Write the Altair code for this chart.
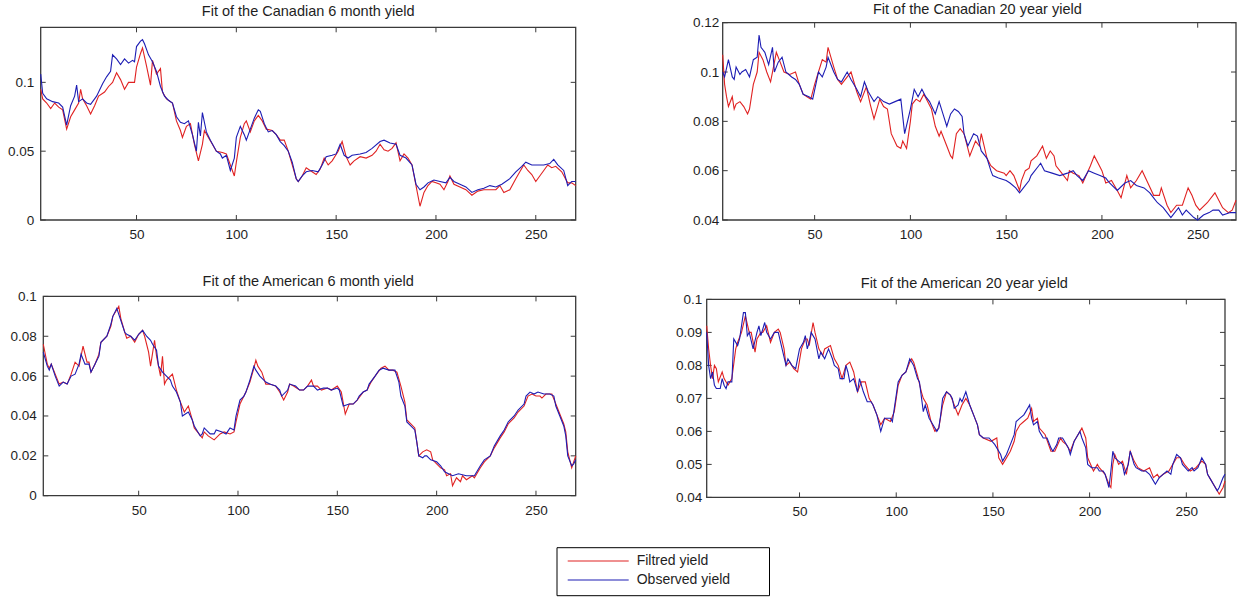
import altair as alt
import pandas as pd

FONT = "Liberation Sans"
RED = "#e02222"
BLUE = "#1d1db4"
FRAME = "#3a3a3a"
TEXT = "#1e1e1e"
SERIES = ["Filtred yield", "Observed yield"]

x_ticks = [50, 100, 150, 200, 250]
tl_yticks = [0, 0.05, 0.1]
tr_yticks = [0.04, 0.06, 0.08, 0.1, 0.12]
bl_yticks = [0, 0.02, 0.04, 0.06, 0.08, 0.1]
br_yticks = [0.04, 0.05, 0.06, 0.07, 0.08, 0.09, 0.1]

titles = ["Fit of the Canadian 6 month yield", "Fit of the Canadian 20 year yield",
          "Fit of the American 6 month yield", "Fit of the American 20 year yield"]

# ---- Canadian 6 month ----
tl_obs = [(2,.106),(3,.092),(5,.088),(8,.086),(11,.085),(13,.082),(15,.069),(17,.083),(19,.090),(20,.098),(21,.086),(23,.088),(25,.085),(27,.084),(30,.090),(33,.099),(35,.104),(37,.108),(38,.120),(40,.117),(42,.113),(44,.117),(46,.114),(48,.116),(49,.115),(50,.126),(52,.130),(53,.131),(54,.128),(56,.120),(58,.115),(60,.108),(62,.097),(64,.090),(66,.087),(68,.085),(70,.075),(72,.071),(74,.070),(76,.072),(78,.062),(80,.050),(81,.071),(82,.061),(83,.078),(85,.064),(87,.058),(90,.050),(92,.048),(93,.045),(95,.047),(97,.036),(99,.045),(100,.060),(102,.068),(104,.062),(105,.058),(107,.066),(109,.074),(111,.080),(112,.079),(114,.070),(116,.064),(118,.065),(120,.062),(122,.057),(124,.054),(126,.050),(128,.042),(130,.030),(131,.028),(133,.032),(135,.035),(138,.036),(141,.035),(143,.040),(145,.046),(148,.047),(150,.048),(152,.055),(154,.047),(156,.045),(158,.047),(162,.048),(165,.049),(168,.052),(172,.057),(174,.058),(177,.056),(180,.055),(182,.047),(185,.045),(188,.040),(190,.026),(192,.022),(194,.024),(196,.027),(199,.029),(202,.028),(205,.027),(207,.031),(209,.028),(212,.026),(215,.024),(218,.020),(221,.022),(224,.023),(227,.025),(230,.024),(233,.026),(237,.030),(240,.035),(243,.039),(245,.042),(248,.040),(251,.040),(254,.040),(257,.041),(259,.044),(261,.040),(264,.036),(266,.025),(268,.028),(270,.028)]
tl_fil = [(2,.095),(3,.088),(5,.085),(7,.081),(9,.085),(11,.082),(13,.080),(15,.066),(17,.075),(19,.080),(21,.085),(22,.095),(23,.088),(25,.083),(27,.077),(29,.083),(31,.090),(34,.093),(36,.097),(38,.100),(40,.107),(42,.102),(44,.095),(46,.100),(48,.100),(49,.100),(50,.111),(52,.121),(53,.125),(55,.112),(57,.098),(58,.116),(60,.106),(62,.110),(63,.093),(65,.088),(68,.085),(70,.072),(72,.065),(73,.060),(75,.068),(77,.070),(79,.055),(81,.043),(83,.055),(84,.065),(86,.060),(88,.055),(90,.050),(93,.049),(95,.048),(97,.040),(99,.032),(100,.042),(102,.060),(104,.070),(105,.072),(107,.064),(109,.072),(111,.076),(113,.072),(115,.066),(118,.065),(120,.062),(122,.058),(124,.058),(126,.050),(128,.040),(130,.030),(131,.028),(133,.032),(135,.038),(137,.036),(140,.033),(142,.037),(144,.045),(146,.040),(148,.043),(151,.050),(153,.057),(155,.046),(157,.040),(159,.043),(162,.046),(165,.045),(168,.047),(170,.050),(172,.055),(174,.051),(176,.050),(178,.052),(180,.056),(182,.043),(184,.048),(186,.045),(188,.040),(190,.025),(192,.010),(194,.020),(196,.025),(198,.028),(200,.027),(202,.026),(204,.022),(206,.028),(207,.032),(209,.026),(212,.024),(215,.022),(218,.018),(221,.021),(224,.022),(227,.022),(230,.022),(232,.025),(234,.020),(237,.022),(240,.030),(242,.035),(244,.040),(246,.036),(248,.033),(250,.028),(252,.032),(254,.036),(256,.040),(258,.038),(260,.039),(263,.035),(266,.027),(268,.027),(270,.025)]

# ---- Canadian 20 year ----
tr_obs = [(2,.100),(3,.098),(5,.105),(7,.098),(8,.097),(9,.102),(11,.099),(12,.100),(14,.101),(16,.098),(18,.105),(20,.106),(21,.115),(22,.110),(24,.108),(26,.103),(28,.110),(29,.100),(31,.104),(33,.106),(35,.100),(38,.098),(40,.097),(42,.095),(44,.091),(47,.090),(49,.089),(52,.100),(54,.098),(56,.102),(57,.106),(60,.100),(62,.097),(64,.096),(67,.100),(69,.097),(72,.093),(74,.090),(76,.096),(78,.092),(81,.088),(83,.090),(86,.088),(89,.087),(92,.088),(95,.089),(97,.075),(100,.085),(102,.093),(104,.090),(106,.093),(108,.090),(110,.088),(113,.083),(115,.088),(117,.083),(119,.078),(121,.083),(123,.085),(125,.084),(127,.082),(128,.075),(130,.070),(133,.075),(135,.074),(137,.068),(140,.065),(142,.060),(143,.058),(146,.057),(150,.056),(152,.055),(155,.053),(157,.051),(159,.053),(162,.056),(163,.058),(167,.062),(168,.063),(170,.060),(174,.059),(178,.058),(182,.059),(185,.060),(187,.058),(190,.056),(193,.060),(196,.059),(199,.058),(202,.057),(204,.055),(208,.052),(212,.055),(215,.056),(218,.054),(222,.053),(225,.051),(227,.049),(229,.047),(232,.045),(234,.043),(236,.041),(237,.042),(240,.045),(242,.042),(244,.044),(248,.041),(250,.040),(253,.042),(256,.043),(258,.044),(261,.044),(263,.042),(267,.043),(270,.043)]
tr_fil = [(2,.107),(3,.095),(4,.090),(5,.086),(7,.090),(8,.085),(9,.087),(11,.088),(13,.086),(15,.083),(16,.085),(18,.095),(20,.100),(21,.108),(23,.105),(25,.100),(27,.096),(28,.100),(30,.108),(32,.104),(34,.100),(37,.099),(40,.100),(42,.095),(44,.091),(46,.090),(48,.089),(50,.095),(52,.100),(54,.105),(56,.104),(57,.110),(60,.102),(62,.097),(64,.095),(67,.098),(69,.100),(72,.092),(74,.088),(77,.094),(79,.087),(81,.081),(84,.089),(86,.086),(88,.085),(90,.075),(93,.070),(95,.069),(96,.072),(98,.069),(100,.080),(101,.087),(103,.089),(105,.088),(107,.091),(109,.088),(111,.085),(113,.078),(115,.074),(116,.076),(119,.070),(121,.066),(122,.065),(124,.075),(126,.077),(128,.075),(131,.066),(134,.072),(136,.070),(137,.075),(140,.065),(142,.062),(145,.060),(149,.059),(150,.058),(152,.060),(154,.058),(156,.054),(157,.052),(158,.056),(160,.060),(162,.061),(163,.064),(166,.066),(169,.070),(171,.065),(173,.068),(175,.066),(176,.062),(178,.060),(182,.056),(183,.060),(185,.059),(188,.058),(190,.055),(194,.062),(196,.066),(198,.063),(200,.060),(202,.055),(205,.056),(208,.052),(210,.049),(213,.058),(215,.053),(218,.056),(221,.060),(224,.055),(227,.050),(230,.050),(231,.053),(234,.046),(236,.043),(239,.046),(242,.046),(245,.053),(247,.050),(249,.046),(251,.044),(255,.047),(259,.051),(261,.048),(263,.045),(266,.043),(268,.044),(270,.048)]

# ---- American 6 month ----
bl_obs = [(2,.072),(4,.065),(5,.063),(6,.066),(8,.060),(10,.055),(12,.057),(14,.056),(16,.060),(18,.061),(20,.066),(21,.071),(23,.066),(25,.066),(26,.062),(28,.066),(30,.070),(31,.077),(34,.080),(36,.086),(37,.090),(39,.094),(41,.088),(43,.082),(44,.081),(46,.080),(48,.078),(50,.081),(52,.083),(54,.080),(56,.078),(57,.076),(59,.073),(60,.065),(62,.062),(64,.060),(66,.058),(67,.055),(69,.052),(71,.047),(72,.040),(75,.042),(77,.038),(78,.035),(81,.030),(82,.031),(83,.034),(86,.031),(88,.031),(89,.033),(92,.032),(94,.031),(96,.034),(98,.033),(99,.040),(101,.048),(103,.050),(104,.052),(106,.058),(108,.065),(109,.063),(111,.060),(114,.057),(116,.056),(119,.055),(121,.053),(122,.050),(125,.053),(126,.056),(129,.055),(131,.053),(133,.053),(135,.055),(138,.055),(140,.053),(143,.054),(145,.054),(147,.053),(150,.054),(151,.053),(153,.045),(156,.046),(158,.046),(160,.048),(161,.050),(163,.052),(165,.053),(166,.056),(169,.060),(171,.063),(173,.064),(176,.063),(178,.063),(179,.063),(181,.057),(182,.050),(184,.045),(185,.037),(187,.035),(189,.033),(190,.027),(191,.020),(193,.019),(194,.020),(195,.020),(197,.018),(200,.017),(202,.015),(204,.012),(206,.011),(208,.010),(211,.011),(215,.010),(219,.010),(222,.015),(224,.018),(227,.020),(229,.025),(232,.030),(234,.033),(236,.037),(239,.040),(241,.043),(244,.046),(245,.050),(247,.052),(249,.051),(251,.052),(254,.051),(257,.051),(259,.050),(260,.045),(262,.040),(264,.035),(265,.030),(266,.020),(268,.015),(269,.016),(270,.018)]
bl_fil = [(2,.076),(4,.066),(5,.064),(6,.066),(8,.061),(10,.056),(12,.057),(14,.056),(16,.061),(18,.067),(20,.065),(22,.075),(24,.067),(25,.067),(26,.062),(28,.066),(30,.071),(31,.077),(34,.080),(36,.085),(37,.090),(40,.095),(41,.089),(43,.082),(44,.079),(46,.080),(48,.077),(50,.081),(52,.083),(53,.080),(55,.072),(56,.065),(58,.078),(59,.070),(61,.060),(62,.070),(63,.056),(64,.058),(67,.061),(69,.053),(71,.047),(73,.042),(75,.045),(77,.038),(78,.034),(82,.029),(83,.032),(85,.030),(88,.028),(91,.031),(93,.032),(96,.031),(98,.032),(99,.037),(101,.046),(103,.050),(104,.052),(106,.057),(108,.064),(109,.068),(110,.065),(112,.062),(114,.056),(116,.056),(119,.055),(121,.052),(123,.048),(125,.052),(126,.056),(128,.055),(131,.053),(133,.053),(135,.055),(137,.058),(138,.055),(140,.055),(142,.053),(145,.054),(147,.053),(150,.055),(152,.052),(154,.041),(156,.046),(158,.046),(160,.048),(163,.052),(165,.053),(167,.057),(169,.060),(172,.064),(174,.065),(176,.063),(178,.063),(180,.062),(182,.055),(184,.047),(185,.038),(187,.036),(189,.034),(190,.027),(191,.020),(193,.022),(195,.023),(197,.022),(198,.018),(200,.016),(202,.014),(204,.013),(205,.010),(207,.011),(208,.005),(210,.009),(212,.007),(213,.010),(215,.008),(218,.010),(219,.009),(222,.014),(224,.017),(227,.020),(229,.024),(232,.029),(234,.032),(236,.036),(239,.039),(241,.042),(244,.045),(246,.050),(248,.051),(250,.050),(252,.050),(253,.049),(255,.051),(258,.051),(260,.046),(262,.041),(264,.036),(265,.032),(266,.022),(268,.014),(269,.017),(270,.020)]

# ---- American 20 year ----
br_obs = [(2,.090),(3,.080),(4,.076),(5,.078),(6,.074),(7,.073),(9,.073),(10,.076),(11,.074),(12,.073),(13,.075),(15,.075),(16,.088),(18,.086),(19,.088),(21,.096),(22,.096),(23,.089),(24,.090),(26,.085),(28,.090),(29,.092),(30,.089),(32,.093),(33,.090),(35,.088),(37,.090),(39,.090),(41,.085),(43,.080),(44,.082),(46,.080),(48,.079),(50,.085),(52,.087),(53,.089),(54,.085),(55,.087),(56,.090),(58,.088),(60,.082),(61,.084),(63,.082),(65,.085),(67,.082),(68,.080),(70,.079),(71,.076),(73,.076),(74,.080),(75,.078),(76,.075),(78,.076),(80,.072),(81,.076),(83,.072),(85,.069),(87,.069),(88,.068),(90,.065),(92,.060),(94,.064),(97,.064),(98,.063),(99,.067),(101,.075),(103,.077),(105,.078),(106,.080),(107,.082),(109,.080),(111,.076),(112,.075),(114,.066),(115,.068),(117,.064),(118,.063),(119,.062),(121,.060),(122,.061),(123,.065),(124,.070),(126,.072),(128,.071),(129,.070),(130,.067),(132,.068),(133,.070),(134,.069),(136,.072),(138,.068),(140,.065),(142,.062),(143,.059),(145,.058),(148,.058),(151,.056),(154,.053),(155,.051),(157,.053),(159,.056),(161,.059),(162,.063),(164,.064),(166,.065),(167,.066),(169,.068),(170,.064),(171,.062),(173,.063),(174,.060),(176,.058),(178,.058),(180,.055),(181,.054),(183,.056),(184,.058),(186,.058),(187,.057),(189,.055),(190,.053),(192,.057),(193,.058),(195,.060),(196,.058),(198,.055),(199,.050),(201,.049),(204,.049),(205,.048),(207,.048),(208,.047),(209,.045),(210,.043),(211,.048),(212,.054),(213,.052),(215,.051),(217,.050),(218,.047),(220,.050),(221,.054),(223,.050),(224,.049),(227,.048),(229,.048),(231,.047),(233,.045),(234,.044),(236,.046),(238,.047),(240,.048),(242,.047),(243,.050),(245,.053),(247,.052),(248,.050),(251,.048),(253,.049),(254,.048),(256,.049),(258,.052),(260,.050),(261,.047),(263,.045),(264,.044),(266,.042),(267,.043),(269,.046),(270,.047)]
br_fil = [(2,.092),(3,.085),(4,.080),(5,.076),(6,.080),(7,.079),(8,.075),(10,.078),(11,.076),(13,.074),(14,.075),(15,.076),(17,.085),(18,.087),(20,.090),(22,.095),(24,.090),(25,.090),(27,.084),(28,.088),(30,.090),(31,.090),(33,.092),(35,.087),(37,.090),(39,.091),(40,.090),(42,.085),(43,.080),(45,.081),(47,.079),(49,.078),(51,.085),(53,.088),(54,.088),(55,.086),(57,.093),(58,.090),(60,.085),(62,.083),(63,.085),(66,.086),(68,.082),(70,.080),(72,.076),(74,.080),(76,.081),(78,.078),(80,.072),(82,.075),(84,.075),(86,.070),(88,.068),(90,.065),(92,.062),(94,.064),(97,.063),(99,.066),(101,.074),(103,.077),(105,.078),(107,.081),(108,.082),(109,.081),(111,.077),(113,.072),(114,.070),(116,.068),(118,.063),(120,.060),(122,.061),(124,.068),(126,.072),(128,.071),(130,.068),(132,.065),(134,.068),(136,.070),(138,.068),(140,.065),(142,.062),(143,.059),(145,.058),(149,.057),(152,.058),(153,.052),(155,.050),(156,.051),(159,.054),(161,.057),(162,.060),(164,.062),(166,.063),(168,.064),(170,.067),(171,.063),(173,.064),(174,.061),(177,.059),(180,.054),(182,.054),(185,.058),(186,.057),(188,.056),(190,.054),(192,.057),(193,.058),(196,.061),(198,.058),(199,.052),(202,.048),(204,.050),(205,.049),(208,.047),(210,.044),(211,.043),(212,.050),(213,.053),(215,.050),(217,.051),(219,.047),(221,.054),(223,.051),(225,.049),(228,.048),(231,.049),(233,.046),(235,.047),(236,.046),(238,.047),(241,.048),(243,.050),(245,.052),(247,.052),(249,.050),(252,.048),(255,.049),(258,.051),(260,.050),(261,.047),(263,.045),(266,.042),(267,.041),(269,.043),(270,.045)]

TICK_LEN = 5.0
LABEL_SIZE = 13.5

panels = [
    dict(title=titles[0], fil=tl_fil, obs=tl_obs, yticks=tl_yticks, w=535, h=197.3,
         xdom=[2, 270], ydom=[0, 0.14334], fx=[2, 270], fy=[0, 0.14],
         yoff=0, xoff=0, ypad=7, tdy=7.7, tdx=0),
    dict(title=titles[1], fil=tr_fil, obs=tr_obs, yticks=tr_yticks, w=529.3, h=197.3,
         xdom=[-6.35, 270], ydom=[0.04, 0.12], fx=[2, 270], fy=[0.04, 0.12],
         yoff=-16, xoff=0, ypad=4, tdy=12.5, tdx=6),
    dict(title=titles[2], fil=bl_fil, obs=bl_obs, yticks=bl_yticks, w=535, h=201,
         xdom=[0.69, 270], ydom=[-0.00085, 0.1], fx=[2, 270], fy=[0, 0.1],
         yoff=-2.6, xoff=-1.7, ypad=7, tdy=10.75, tdx=0),
    dict(title=titles[3], fil=br_fil, obs=br_obs, yticks=br_yticks, w=529.3, h=201,
         xdom=[2, 275.69], ydom=[0.04, 0.10091], fx=[2, 270], fy=[0.04, 0.1],
         yoff=0, xoff=0, ypad=5, tdy=10.15, tdx=-7),
]

legend = alt.Legend(
    title=None, orient="none", legendX=526, legendY=530.3,
    symbolType="stroke", symbolSize=3721, symbolStrokeWidth=1.2, clipHeight=16,
    labelFontSize=14, labelFont=FONT, labelColor=TEXT, labelOffset=7,
    padding=0, rowPadding=3,
)
color_scale = alt.Scale(domain=SERIES, range=[RED, BLUE])


def make_panel(p, legend_box=False):
    xs = alt.Scale(domain=p["xdom"], nice=False, zero=False)
    ys = alt.Scale(domain=p["ydom"], nice=False, zero=False)
    xaxis = alt.Axis(values=x_ticks, format="d", title=None, ticks=False, tickSize=0,
                     domain=False, grid=False, labelPadding=7.5, labelFontSize=LABEL_SIZE,
                     labelFont=FONT, labelColor=TEXT, offset=p["xoff"])
    yaxis = alt.Axis(values=p["yticks"], format=".3~g", title=None, ticks=False, tickSize=0,
                     domain=False, grid=False, labelPadding=p["ypad"], labelFontSize=LABEL_SIZE,
                     labelFont=FONT, labelColor=TEXT, offset=p["yoff"])
    kx = (p["xdom"][1] - p["xdom"][0]) / p["w"] * TICK_LEN
    ky = (p["ydom"][1] - p["ydom"][0]) / p["h"] * TICK_LEN
    fx0, fx1 = p["fx"]
    fy0, fy1 = p["fy"]

    frame_df = pd.DataFrame([dict(x=fx0, x2=fx1, y=fy0, y2=fy1)])
    ticks = []
    for t in x_ticks:
        ticks.append(dict(x=t, x2=t, y=fy0, y2=fy0 + ky))
        ticks.append(dict(x=t, x2=t, y=fy1, y2=fy1 - ky))
    for t in p["yticks"]:
        ticks.append(dict(x=fx0, x2=fx0 + kx, y=t, y2=t))
        ticks.append(dict(x=fx1, x2=fx1 - kx, y=t, y2=t))
    ticks_df = pd.DataFrame(ticks)

    fil_df = pd.DataFrame(p["fil"], columns=["x", "value"]).assign(series=SERIES[0])
    obs_df = pd.DataFrame(p["obs"], columns=["x", "value"]).assign(series=SERIES[1])

    frame = alt.Chart(frame_df).mark_rect(fillOpacity=0, stroke=FRAME, strokeWidth=1.3).encode(
        x=alt.X("x:Q", scale=xs, axis=xaxis), x2="x2:Q",
        y=alt.Y("y:Q", scale=ys, axis=yaxis), y2="y2:Q")
    tick_rules = alt.Chart(ticks_df).mark_rule(color=FRAME, strokeWidth=1).encode(
        x=alt.X("x:Q", scale=xs, axis=xaxis), x2="x2:Q",
        y=alt.Y("y:Q", scale=ys, axis=yaxis), y2="y2:Q")

    def line(df):
        return alt.Chart(df).mark_line(strokeWidth=1.1).encode(
            x=alt.X("x:Q", scale=xs, axis=xaxis),
            y=alt.Y("value:Q", scale=ys, axis=yaxis),
            color=alt.Color("series:N", scale=color_scale, legend=legend))

    layers = [frame, tick_rules]
    if legend_box:
        # legend frame (drawn relative to this panel's origin: 40.7, 295.7)
        box = alt.Chart(pd.DataFrame([{"box": 1}])).mark_rect(
            fill="#ffffff", stroke="#000000", strokeWidth=1).encode(
            x=alt.value(557 - 40.7), x2=alt.value(769.5 - 40.7),
            y=alt.value(547 - 295.7), y2=alt.value(595 - 295.7))
        layers.append(box)
    layers += [line(fil_df), line(obs_df)]

    return alt.layer(*layers).properties(
        width=p["w"], height=p["h"],
        title=alt.TitleParams(p["title"], fontSize=14.5, font=FONT, fontWeight="normal",
                              color=TEXT, anchor="middle", frame="group",
                              baseline="alphabetic", offset=0, dy=p["tdy"], dx=p["tdx"]))


charts = [make_panel(p, legend_box=(i == 2)) for i, p in enumerate(panels)]

chart = alt.concat(*charts, columns=2).properties(
    spacing={"row": 75.7, "column": 131},
    bounds="flush",
    autosize=alt.AutoSizeParams(type="none"),
    padding={"left": 40.7, "top": 22.7, "right": 1243 - 40.7, "bottom": 598 - 22.7},
).resolve_scale(x="independent", y="independent", color="shared").configure(
    font=FONT
).configure_view(stroke="transparent")

chart.save("out.html", embed_options={"renderer": "svg", "actions": False})
